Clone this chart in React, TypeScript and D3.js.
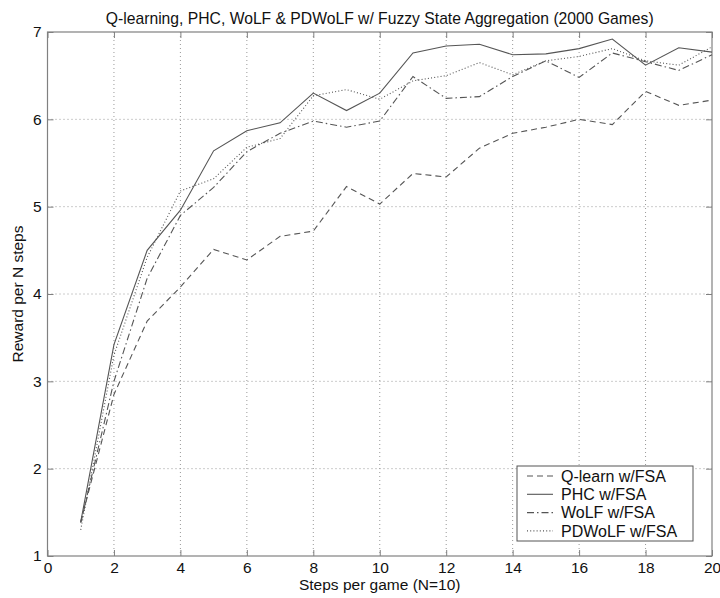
import React, { useEffect, useRef } from 'react';
import * as d3 from 'd3';

const steps = d3.range(1, 21);
const qlearn = [1.39, 2.85, 3.69, 4.08, 4.51, 4.39, 4.66, 4.72, 5.23, 5.03, 5.38, 5.34, 5.67, 5.84, 5.91, 6.0, 5.94, 6.32, 6.16, 6.22];
const phc = [1.39, 3.42, 4.5, 4.96, 5.64, 5.87, 5.96, 6.3, 6.1, 6.3, 6.76, 6.84, 6.86, 6.74, 6.75, 6.81, 6.92, 6.62, 6.82, 6.77];
const wolf = [1.38, 3.0, 4.18, 4.9, 5.22, 5.63, 5.84, 5.98, 5.91, 5.98, 6.49, 6.24, 6.26, 6.49, 6.67, 6.48, 6.76, 6.66, 6.56, 6.74];
const pdwolf = [1.3, 3.3, 4.42, 5.18, 5.32, 5.68, 5.78, 6.27, 6.34, 6.23, 6.44, 6.5, 6.65, 6.51, 6.67, 6.72, 6.81, 6.67, 6.62, 6.83];

const xTicks = [0, 2, 4, 6, 8, 10, 12, 14, 16, 18, 20];
const yTicks = [1, 2, 3, 4, 5, 6, 7];

const seriesNames = ['Q-learn w/FSA', 'PHC w/FSA', 'WoLF w/FSA', 'PDWoLF w/FSA'];
const seriesDash = ['6,4', null, '7,3,1.5,3', '1,2.2'];

const App = () => {
    const svgRef = useRef<SVGSVGElement>(null);
    const width = 720;
    const height = 598;

    useEffect(() => {
        const svg = d3.select(svgRef.current);
        svg.selectAll('*').remove();

        const margin = { top: 32, right: 8, bottom: 42, left: 47.5 };
        const innerWidth = width - margin.left - margin.right;
        const innerHeight = height - margin.top - margin.bottom;
        const font = 'Liberation Sans, Arial, sans-serif';
        const axisColor = '#808080';

        svg.append('rect').attr('width', width).attr('height', height).attr('fill', '#fff');

        const g = svg.append('g').attr('transform', `translate(${margin.left},${margin.top})`);

        const xScale = d3.scaleLinear().domain([0, 20]).range([0, innerWidth]);
        const yScale = d3.scaleLinear().domain([1, 7]).range([innerHeight, 0]);

        // grid
        g.selectAll('.vgrid')
            .data(xTicks.slice(1, -1))
            .enter()
            .append('line')
            .attr('x1', d => xScale(d))
            .attr('x2', d => xScale(d))
            .attr('y1', 0)
            .attr('y2', innerHeight)
            .attr('stroke', '#999')
            .attr('stroke-dasharray', '1,3');

        g.selectAll('.hgrid')
            .data(yTicks.slice(1, -1))
            .enter()
            .append('line')
            .attr('x1', 0)
            .attr('x2', innerWidth)
            .attr('y1', d => yScale(d))
            .attr('y2', d => yScale(d))
            .attr('stroke', '#999')
            .attr('stroke-dasharray', '1,3');

        // axes (ticks inward on all sides)
        const tickLen = 6;
        const styleAxis = (sel: any) => {
            sel.select('.domain').remove();
            sel.selectAll('line').attr('stroke', axisColor);
            sel.selectAll('text').style('font-family', font).style('font-size', '15.5px').attr('fill', '#111');
        };

        g.append('g')
            .attr('transform', `translate(0,${innerHeight})`)
            .call(d3.axisBottom(xScale).tickValues(xTicks).tickSize(-tickLen).tickPadding(6).tickFormat(d3.format('d')))
            .call(styleAxis);

        g.append('g')
            .call(d3.axisTop(xScale).tickValues(xTicks).tickSize(-tickLen).tickFormat(() => ''))
            .call(styleAxis);

        g.append('g')
            .call(d3.axisLeft(yScale).tickValues(yTicks).tickSize(-tickLen).tickPadding(6).tickFormat(d3.format('d')))
            .call(styleAxis);

        g.append('g')
            .attr('transform', `translate(${innerWidth},0)`)
            .call(d3.axisRight(yScale).tickValues(yTicks).tickSize(-tickLen).tickFormat(() => ''))
            .call(styleAxis);

        g.append('rect')
            .attr('width', innerWidth)
            .attr('height', innerHeight)
            .attr('fill', 'none')
            .attr('stroke', axisColor)
            .attr('stroke-width', 1.2);

        // lines
        const allSeries = [qlearn, phc, wolf, pdwolf];
        const line = d3.line<number>()
            .x((d, i) => xScale(steps[i]))
            .y(d => yScale(d));

        allSeries.forEach((vals, i) => {
            g.append('path')
                .datum(vals)
                .attr('d', line)
                .attr('fill', 'none')
                .attr('stroke', '#555')
                .attr('stroke-width', 1.1)
                .attr('stroke-dasharray', seriesDash[i]);
        });

        // legend
        const lx = 517 - margin.left;
        const ly = 466 - margin.top;
        const lw = 176;
        const lh = 75;
        const legend = g.append('g').attr('transform', `translate(${lx},${ly})`);
        legend.append('rect')
            .attr('width', lw)
            .attr('height', lh)
            .attr('fill', '#fff')
            .attr('stroke', '#555')
            .attr('stroke-width', 1);

        seriesNames.forEach((name, i) => {
            const yy = 10 + i * 18.3;
            legend.append('line')
                .attr('x1', 10)
                .attr('x2', 36)
                .attr('y1', yy)
                .attr('y2', yy)
                .attr('stroke', '#555')
                .attr('stroke-width', 1.1)
                .attr('stroke-dasharray', seriesDash[i]);
            legend.append('text')
                .attr('x', 44)
                .attr('y', yy)
                .attr('dy', '0.35em')
                .style('font-family', font)
                .style('font-size', '16px')
                .attr('fill', '#111')
                .text(name);
        });

        // labels
        svg.append('text')
            .attr('x', margin.left + innerWidth / 2)
            .attr('y', 24)
            .attr('text-anchor', 'middle')
            .style('font-family', font)
            .style('font-size', '15.7px')
            .attr('fill', '#111')
            .text('Q-learning, PHC, WoLF & PDWoLF w/ Fuzzy State Aggregation (2000 Games)');

        svg.append('text')
            .attr('x', margin.left + innerWidth / 2)
            .attr('y', 590)
            .attr('text-anchor', 'middle')
            .style('font-family', font)
            .style('font-size', '15.5px')
            .attr('fill', '#111')
            .text('Steps per game (N=10)');

        svg.append('text')
            .attr('transform', `translate(23,${margin.top + innerHeight / 2}) rotate(-90)`)
            .attr('text-anchor', 'middle')
            .style('font-family', font)
            .style('font-size', '15.5px')
            .attr('fill', '#111')
            .text('Reward per N steps');
    }, []);

    return (
        <div style={{ position: 'fixed', left: 0, top: 0, width, height, overflow: 'hidden' }}>
            <svg ref={svgRef} width={width} height={height} style={{ display: 'block' }}></svg>
        </div>
    );
};

export default App;
